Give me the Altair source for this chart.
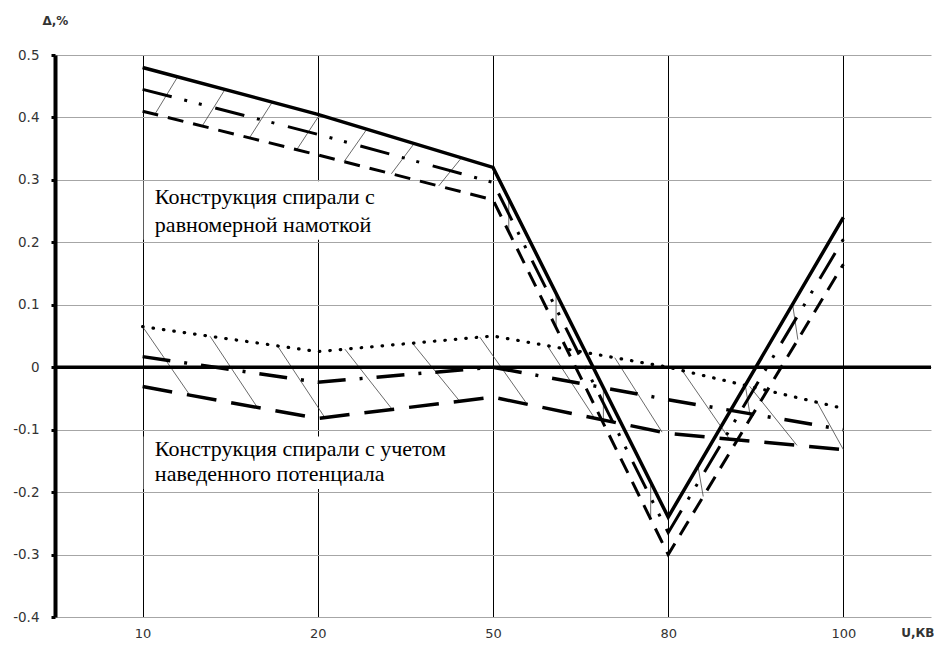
import json
import numpy as np
import pandas as pd
import altair as alt

categories = ["10", "20", "50", "80", "100"]
y_ticks = [-0.4, -0.3, -0.2, -0.1, 0.0, 0.1, 0.2, 0.3, 0.4, 0.5]

# upper group: spiral with uniform winding
uniform_solid = [0.48, 0.405, 0.32, -0.24, 0.24]
uniform_dashdotdot = [0.445, 0.373, 0.296, -0.265, 0.205]
uniform_dashed = [0.41, 0.34, 0.268, -0.30, 0.165]
# lower group: spiral accounting for induced potential
induced_dotted = [0.065, 0.025, 0.05, 0.0, -0.066]
induced_dashdot = [0.017, -0.024, 0.0, -0.052, -0.10]
induced_dashed = [-0.031, -0.082, -0.048, -0.106, -0.132]

note_upper = ["Конструкция спирали с", "равномерной намоткой"]
note_lower = ["Конструкция спирали с учетом", "наведенного потенциала"]
note_upper_y = [0.273, 0.228]
note_lower_y = [-0.131, -0.171]
note_x = 0.07
# white label boxes (x0, x1, y0, y1)
box_x = [0.006, 1.9]
box_upper_y = [0.204, 0.298]
box_lower_y = [-0.195, -0.111]

idx = np.arange(len(categories), dtype=float)
last = float(len(categories) - 1)

# hatching between boundary lines (derived from the series above)
upper_starts = np.arange(0.2, 3.95, 0.27)
upper_shift = [0.13, 0.13, 0.0, -0.03]
rows = []
for t in upper_starts:
    seg = min(int(t), 3)
    tb = float(np.clip(t - upper_shift[seg], 0, last))
    rows.append({"x": t, "y": float(np.interp(t, idx, uniform_solid)),
                 "x2": tb, "y2": float(np.interp(tb, idx, uniform_dashed))})
lower_starts = np.arange(0.0, 3.9, 0.385)
for t in lower_starts:
    tb = min(t + 0.27, last)
    rows.append({"x": t, "y": float(np.interp(t, idx, induced_dotted)),
                 "x2": tb, "y2": float(np.interp(tb, idx, induced_dashed))})
hatch_df = pd.DataFrame(rows)

xscale = alt.Scale(domain=[-0.5, 4.5], nice=False, zero=False)
yscale = alt.Scale(domain=[-0.4, 0.5], nice=False, zero=False)

label_expr = json.dumps(categories) + "[datum.value]"

X_AXIS = alt.Axis(
    values=list(range(len(categories))), labelExpr=label_expr,
    grid=True, gridColor="#000000", gridWidth=1, domain=False, ticks=False,
    labelPadding=10, labelFont="DejaVu Sans", labelFontSize=13,
    labelColor="#333333", title="U,КВ", titleFont="DejaVu Sans",
    titleFontSize=12, titleFontWeight="bold", titleColor="#333333",
    titleAnchor="end", titleAlign="right", titleBaseline="middle",
    titleX=879, titleY=15)
Y_AXIS = alt.Axis(
    values=y_ticks, labelExpr="replace(format(datum.value, '.1~f'), '\u2212', '-')",
    grid=True, gridColor="#a6a6a6", gridWidth=1,
    domain=True, domainColor="#000000", domainWidth=4,
    ticks=True, tickColor="#000000", tickSize=4, tickWidth=3,
    labelPadding=12, labelFont="DejaVu Sans", labelFontSize=13.5,
    labelColor="#333333", title="Δ,%", titleAngle=0, titleFont="DejaVu Sans",
    titleFontSize=12, titleFontWeight="bold", titleColor="#333333",
    titleAlign="left", titleBaseline="middle", titleX=-13, titleY=-35)


def X(field="x"):
    return alt.X(f"{field}:Q", scale=xscale, axis=X_AXIS)


def Y(field="y"):
    return alt.Y(f"{field}:Q", scale=yscale, axis=Y_AXIS)


box_df = pd.DataFrame({
    "x": [box_x[0]] * 2, "x2": [box_x[1]] * 2,
    "y": [box_upper_y[0], box_lower_y[0]], "y2": [box_upper_y[1], box_lower_y[1]],
})
boxes = alt.Chart(box_df).mark_rect(fill="#ffffff", stroke=None).encode(
    x=X(), x2="x2:Q", y=Y(), y2="y2:Q",
)

hatch = alt.Chart(hatch_df).mark_rule(color="#444444", strokeWidth=0.8).encode(
    x=X(), y=Y(), x2="x2:Q", y2="y2:Q",
)

zero = alt.Chart(pd.DataFrame({"y": [0.0]})).mark_rule(color="#000000", strokeWidth=3.5).encode(
    y=Y(),
)


def series_line(values, dash, width, cap="butt"):
    df = pd.DataFrame({"x": idx, "y": values})
    kw = dict(color="#000000", strokeWidth=width, strokeCap=cap, strokeJoin="miter")
    if dash:
        kw["strokeDash"] = dash
    return alt.Chart(df).mark_line(**kw).encode(x=X(), y=Y())


lines = [
    series_line(uniform_dashed, [16, 10], 3),
    series_line(uniform_dashdotdot, [30, 13, 3, 12, 3, 14], 3),
    series_line(uniform_solid, None, 3.5),
    series_line(induced_dotted, [0.5, 10], 3.2, "round"),
    series_line(induced_dashdot, [28, 14, 3, 14], 3.5),
    series_line(induced_dashed, [30, 15], 3.5),
]

notes_df = pd.DataFrame({
    "x": [note_x] * 4,
    "y": note_upper_y + note_lower_y,
    "text": note_upper + note_lower,
})
notes = alt.Chart(notes_df).mark_text(
    align="left", baseline="middle", font="Liberation Serif", fontSize=22, color="#000000"
).encode(x=X(), y=Y(), text="text:N")

chart = alt.layer(boxes, hatch, zero, *lines, notes).properties(
    width=876, height=562,
    autosize=alt.AutoSizeParams(type="none"),
    padding={"left": 47, "top": 47, "right": 3, "bottom": 24},
    background="#ffffff",
).configure_view(stroke=None)

chart.save("out.html", embed_options={"renderer": "svg", "actions": False})
